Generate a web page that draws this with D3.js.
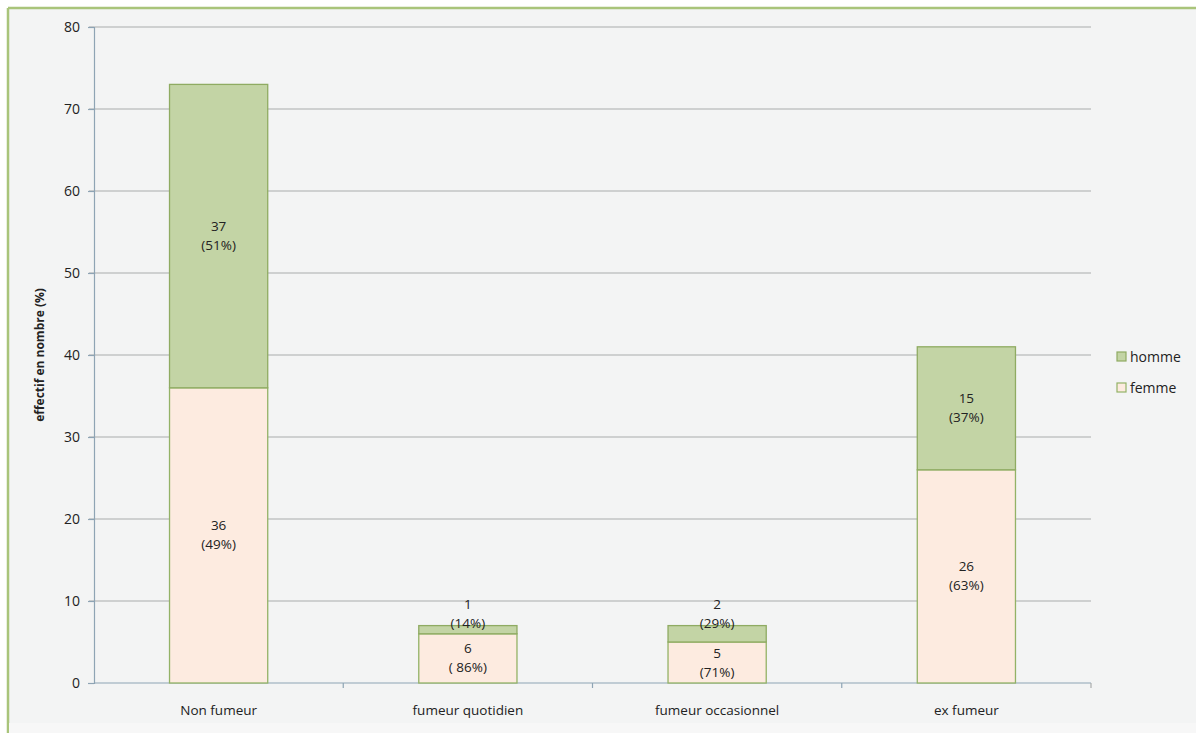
<!DOCTYPE html>
<html>
<head>
<meta charset="utf-8">
<script src="https://cdn.jsdelivr.net/npm/d3@7"></script>
<style>
  html, body { margin: 0; padding: 0; background: #ffffff; }
  svg { display: block; }
  text { font-family: "Open Sans", "Noto Sans", sans-serif; fill: #222; }
</style>
</head>
<body>
<svg id="chart"></svg>
<script>
// data
const categories = ["Non fumeur", "fumeur quotidien", "fumeur occasionnel", "ex fumeur"];
const femme = [36, 6, 5, 26];
const homme = [37, 1, 2, 15];
const femmePct = ["(49%)", "( 86%)", "(71%)", "(63%)"];
const hommePct = ["(51%)", "(14%)", "(29%)", "(37%)"];
const yTicks = [0, 10, 20, 30, 40, 50, 60, 70, 80];
const seriesNames = ["homme", "femme"];

const W = 1196, H = 733;
const margin = { top: 27, right: 105, bottom: 50, left: 94 };
const plotW = W - margin.left - margin.right;
const plotH = H - margin.top - margin.bottom;

const colors = {
  homme: { fill: "#c3d4a5", stroke: "#8fab62" },
  femme: { fill: "#fdebe0", stroke: "#93b266" }
};

const svg = d3.select("#chart").attr("width", W).attr("height", H);

// frame
svg.append("rect").attr("x", 8).attr("y", 8).attr("width", W - 8).attr("height", H - 18)
  .attr("fill", "#f3f4f4");
svg.append("line").attr("x1", 8).attr("x2", W).attr("y1", 8).attr("y2", 8)
  .attr("stroke", "#a9c47a").attr("stroke-width", 2.5);
svg.append("line").attr("x1", 8).attr("x2", 8).attr("y1", 8).attr("y2", H)
  .attr("stroke", "#a9c47a").attr("stroke-width", 2.5);
svg.append("rect").attr("x", 9).attr("y", H - 10).attr("width", W - 9).attr("height", 10)
  .attr("fill", "#f7f7f7");

const g = svg.append("g").attr("transform", `translate(${margin.left},${margin.top})`);

const x = d3.scaleBand().domain(categories).range([0, plotW]).paddingInner(0.606).paddingOuter(0.303);
const xb = d3.scaleBand().domain(categories).range([0, plotW]);
const y = d3.scaleLinear().domain([0, 80]).range([plotH, 0]);

// grid
g.append("g").selectAll("line").data(yTicks.filter(d => d > 0)).join("line")
  .attr("x1", -5).attr("x2", plotW)
  .attr("y1", d => y(d)).attr("y2", d => y(d))
  .attr("stroke", "#a9abab").attr("stroke-width", 1.2);

// y axis
const yAxis = g.append("g").call(d3.axisLeft(y).tickValues(yTicks).tickSize(6).tickPadding(8));
yAxis.attr("font-size", 14).attr("font-family", null);
yAxis.select(".domain").attr("stroke", "#8ea4b4").attr("stroke-width", 1.2);
yAxis.selectAll(".tick line").attr("stroke", "#8ea4b4").attr("stroke-width", 1.2);
yAxis.selectAll("text").attr("fill", "#222");

// x axis (ticks on band boundaries)
const xAxisG = g.append("g").attr("transform", `translate(0,${plotH})`);
xAxisG.append("line").attr("x1", 0).attr("x2", plotW).attr("y1", 0).attr("y2", 0)
  .attr("stroke", "#8ea4b4").attr("stroke-width", 1.2);
xAxisG.selectAll("line.tk").data(categories.slice(1)).join("line").attr("class", "tk")
  .attr("x1", d => xb(d)).attr("x2", d => xb(d)).attr("y1", 0).attr("y2", 5)
  .attr("stroke", "#8ea4b4").attr("stroke-width", 1.2);
xAxisG.append("line").attr("x1", plotW).attr("x2", plotW).attr("y1", 0).attr("y2", 5)
  .attr("stroke", "#a9abab").attr("stroke-width", 1.2);
xAxisG.selectAll("text").data(categories).join("text")
  .attr("x", d => x(d) + x.bandwidth() / 2).attr("y", 32)
  .attr("text-anchor", "middle").attr("font-size", 13.5).text(d => d);

// bars
const rows = categories.map((c, i) => ({ cat: c, femme: femme[i], homme: homme[i] }));
const stacked = d3.stack().keys(["femme", "homme"])(rows);

stacked.forEach(layer => {
  const key = layer.key;
  g.append("g").selectAll("rect").data(layer).join("rect")
    .attr("x", d => x(d.data.cat))
    .attr("width", x.bandwidth())
    .attr("y", d => y(d[1]))
    .attr("height", d => y(d[0]) - y(d[1]))
    .attr("fill", colors[key].fill)
    .attr("stroke", colors[key].stroke)
    .attr("stroke-width", 1.3);
});

// labels
stacked.forEach(layer => {
  const key = layer.key;
  const pct = key === "femme" ? femmePct : hommePct;
  const lg = g.append("g");
  layer.forEach((d, i) => {
    const top = y(d[1]), bot = y(d[0]);
    let cy = (top + bot) / 2;
    if (bot - top < 36) cy = top - 12;
    const t = lg.append("text").attr("text-anchor", "middle").attr("font-size", 13.5);
    t.append("tspan").attr("x", x(d.data.cat) + x.bandwidth() / 2).attr("y", cy - 5).text(d.data[key]);
    t.append("tspan").attr("x", x(d.data.cat) + x.bandwidth() / 2).attr("y", cy + 14).text(pct[i]);
  });
});

// y title
svg.append("text")
  .attr("transform", `translate(44,${margin.top + plotH / 2}) rotate(-90)`)
  .attr("text-anchor", "middle").attr("font-size", 12).attr("font-weight", "bold")
  .text("effectif en nombre (%)");

// legend
const leg = svg.append("g").attr("transform", "translate(1117,352)");
seriesNames.forEach((s, i) => {
  const r = leg.append("g").attr("transform", `translate(0,${i * 31})`);
  r.append("rect").attr("width", 9).attr("height", 9)
    .attr("fill", colors[s].fill).attr("stroke", colors[s].stroke).attr("stroke-width", 1.2);
  r.append("text").attr("x", 13).attr("y", 10).attr("font-size", 14).text(s);
});
</script>
</body>
</html>
